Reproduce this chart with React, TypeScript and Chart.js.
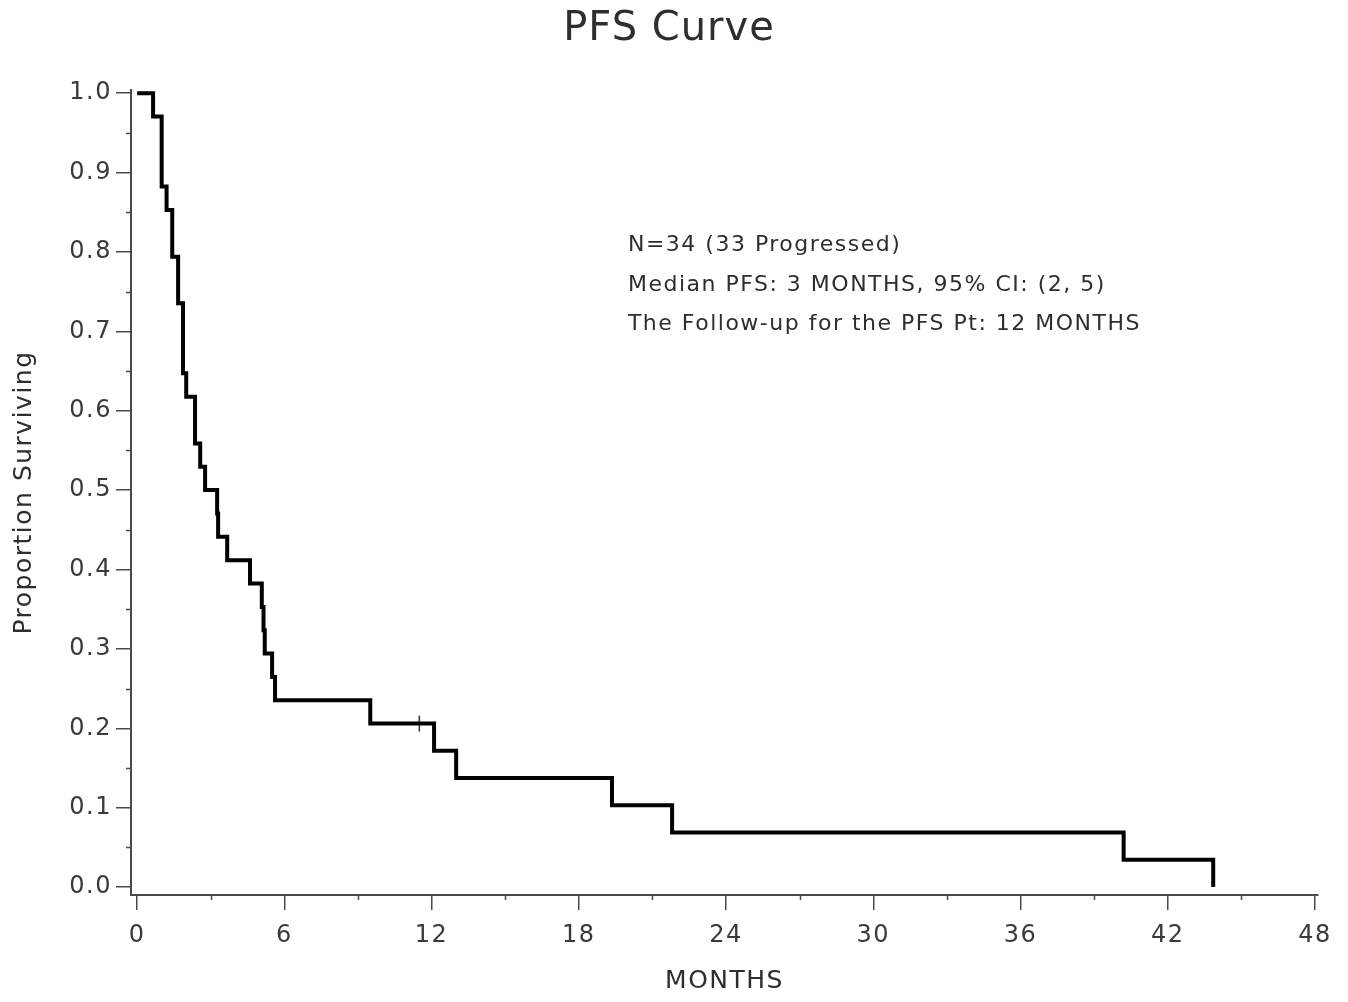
import React, { useEffect, useRef } from "react";
import { Chart, registerables } from "chart.js";

Chart.register(...registerables);

// ---- data ----
const MONTHS = [0, 0.65, 1.0, 1.2, 1.43, 1.67, 1.87, 2.0, 2.36, 2.57, 2.77, 3.26, 3.3, 3.67, 4.6, 5.08, 5.15, 5.2, 5.5, 5.62, 9.5, 12.1, 13.0, 19.35, 21.8, 40.2, 43.85];
const SURVIVAL = [1.0, 0.9706, 0.8824, 0.8529, 0.7941, 0.7353, 0.6471, 0.6176, 0.5588, 0.5294, 0.5, 0.4706, 0.4412, 0.4118, 0.3824, 0.3529, 0.3235, 0.2941, 0.2647, 0.2353, 0.2059, 0.1716, 0.1373, 0.1029, 0.0686, 0.0343, 0.0];
const CENSOR_MONTHS = [11.5];
const CENSOR_SURVIVAL = [0.2059];
const X_TICKS = [0, 6, 12, 18, 24, 30, 36, 42, 48];
const X_MINOR_TICKS = [3, 9, 15, 21, 27, 33, 39, 45];
const Y_TICKS = [0, 0.1, 0.2, 0.3, 0.4, 0.5, 0.6, 0.7, 0.8, 0.9, 1.0];
const Y_MINOR_TICKS = [0.05, 0.15, 0.25, 0.35, 0.45, 0.55, 0.65, 0.75, 0.85, 0.95];
const TITLE = "PFS Curve";
const X_TITLE = "MONTHS";
const Y_TITLE = "Proportion Surviving";
const NOTE_LINES = [
  "N=34 (33 Progressed)",
  "Median PFS: 3 MONTHS, 95% CI: (2, 5)",
  "The Follow-up for the PFS Pt: 12 MONTHS",
];

const FONT = "'DejaVu Sans', 'Liberation Sans', sans-serif";
const TEXT_COLOR = "#2e2e2e";
const TICK_TEXT_COLOR = "#3a3a3a";
const AXIS_COLOR = "#4a4a4a";

const decorPlugin = {
  id: "decor",
  beforeLayout(chart: any) {
    (chart.ctx as any).letterSpacing = "1.5px";
  },
  beforeDraw(chart: any) {
    const ctx = chart.ctx;
    ctx.save();
    ctx.fillStyle = "#fff";
    ctx.fillRect(0, 0, chart.width, chart.height);
    ctx.restore();
    (ctx as any).letterSpacing = "1.5px";
  },
  afterDraw(chart: any) {
    const { ctx, chartArea } = chart;
    const xs = chart.scales.x;
    const ys = chart.scales.y;
    ctx.save();
    ctx.strokeStyle = AXIS_COLOR;
    ctx.lineWidth = 1.5;
    X_MINOR_TICKS.forEach((v) => {
      const px = Math.round(xs.getPixelForValue(v)) + 0.5;
      ctx.beginPath();
      ctx.moveTo(px, chartArea.bottom);
      ctx.lineTo(px, chartArea.bottom + 5);
      ctx.stroke();
    });
    Y_MINOR_TICKS.forEach((v) => {
      const py = Math.round(ys.getPixelForValue(v)) + 0.5;
      ctx.beginPath();
      ctx.moveTo(chartArea.left, py);
      ctx.lineTo(chartArea.left - 5, py);
      ctx.stroke();
    });

    ctx.fillStyle = TEXT_COLOR;
    (ctx as any).letterSpacing = "1px";
    ctx.font = `40px ${FONT}`;
    ctx.textAlign = "center";
    ctx.textBaseline = "middle";
    ctx.fillText(TITLE, 669, 30);

    ctx.font = `22px ${FONT}`;
    ctx.textAlign = "left";
    (ctx as any).letterSpacing = "1.5px";
    const noteX = xs.getPixelForValue(20);
    const noteY = [245, 285, 324];
    NOTE_LINES.forEach((t, i) => ctx.fillText(t, noteX, noteY[i]));
    ctx.restore();
  },
};

export default function App() {
  const ref = useRef<HTMLCanvasElement | null>(null);
  useEffect(() => {
    if (!ref.current) return;
    const chart = new Chart(ref.current, {
      type: "line",
      data: {
        datasets: [
          {
            type: "line",
            label: "PFS",
            data: MONTHS.map((m, i) => ({ x: m, y: SURVIVAL[i] })),
            stepped: true,
            borderColor: "#000",
            borderWidth: 4,
            pointRadius: 0,
            fill: false,
            borderJoinStyle: "miter",
          },
          {
            type: "scatter",
            label: "Censored",
            data: CENSOR_MONTHS.map((m, i) => ({ x: m, y: CENSOR_SURVIVAL[i] })),
            pointStyle: "line",
            rotation: 90,
            pointRadius: 8,
            borderColor: "#333",
            borderWidth: 1.5,
            showLine: false,
          } as any,
        ],
      },
      options: {
        animation: false,
        responsive: false,
        layout: { padding: { top: 90, right: 30, left: 0, bottom: 0 } },
        plugins: {
          legend: { display: false },
          tooltip: { enabled: false },
          title: { display: false },
        },
        scales: {
          x: {
            type: "linear",
            min: -0.25,
            max: 48.12,
            afterBuildTicks: (s: any) => {
              s.ticks = X_TICKS.map((v) => ({ value: v }));
            },
            afterFit: (s: any) => {
              s.height = 107;
            },
            grid: {
              display: true,
              drawOnChartArea: false,
              drawTicks: true,
              tickLength: 15,
              color: AXIS_COLOR,
              lineWidth: 1.5,
            },
            border: { display: true, color: AXIS_COLOR, width: 2 },
            ticks: {
              font: { family: FONT, size: 24 },
              color: TICK_TEXT_COLOR,
              padding: 11,
              autoSkip: false,
              maxRotation: 0,
              callback: (v: any) => String(v),
            },
            title: {
              display: true,
              text: X_TITLE,
              font: { family: FONT, size: 25 },
              color: TEXT_COLOR,
              padding: { top: 0, bottom: 6 },
            },
          },
          y: {
            type: "linear",
            min: -0.01,
            max: 1.004,
            afterBuildTicks: (s: any) => {
              s.ticks = Y_TICKS.map((v) => ({ value: v }));
            },
            afterFit: (s: any) => {
              s.width = 131;
            },
            grid: {
              display: true,
              drawOnChartArea: false,
              drawTicks: true,
              tickLength: 15,
              color: AXIS_COLOR,
              lineWidth: 1.5,
            },
            border: { display: true, color: AXIS_COLOR, width: 2 },
            ticks: {
              font: { family: FONT, size: 24 },
              color: TICK_TEXT_COLOR,
              padding: 4,
              autoSkip: false,
              callback: (v: any) => Number(v).toFixed(1),
            },
            title: {
              display: true,
              text: Y_TITLE,
              font: { family: FONT, size: 25 },
              color: TEXT_COLOR,
              padding: { top: 9, bottom: 0 },
            },
          },
        },
      },
      plugins: [decorPlugin],
    } as any);
    return () => chart.destroy();
  }, []);
  return (
    <div style={{ position: "fixed", left: 0, top: 0, width: 1348, height: 1002, background: "#fff" }}>
      <canvas ref={ref} width={1348} height={1002} style={{ display: "block", width: 1348, height: 1002 }} />
    </div>
  );
}
